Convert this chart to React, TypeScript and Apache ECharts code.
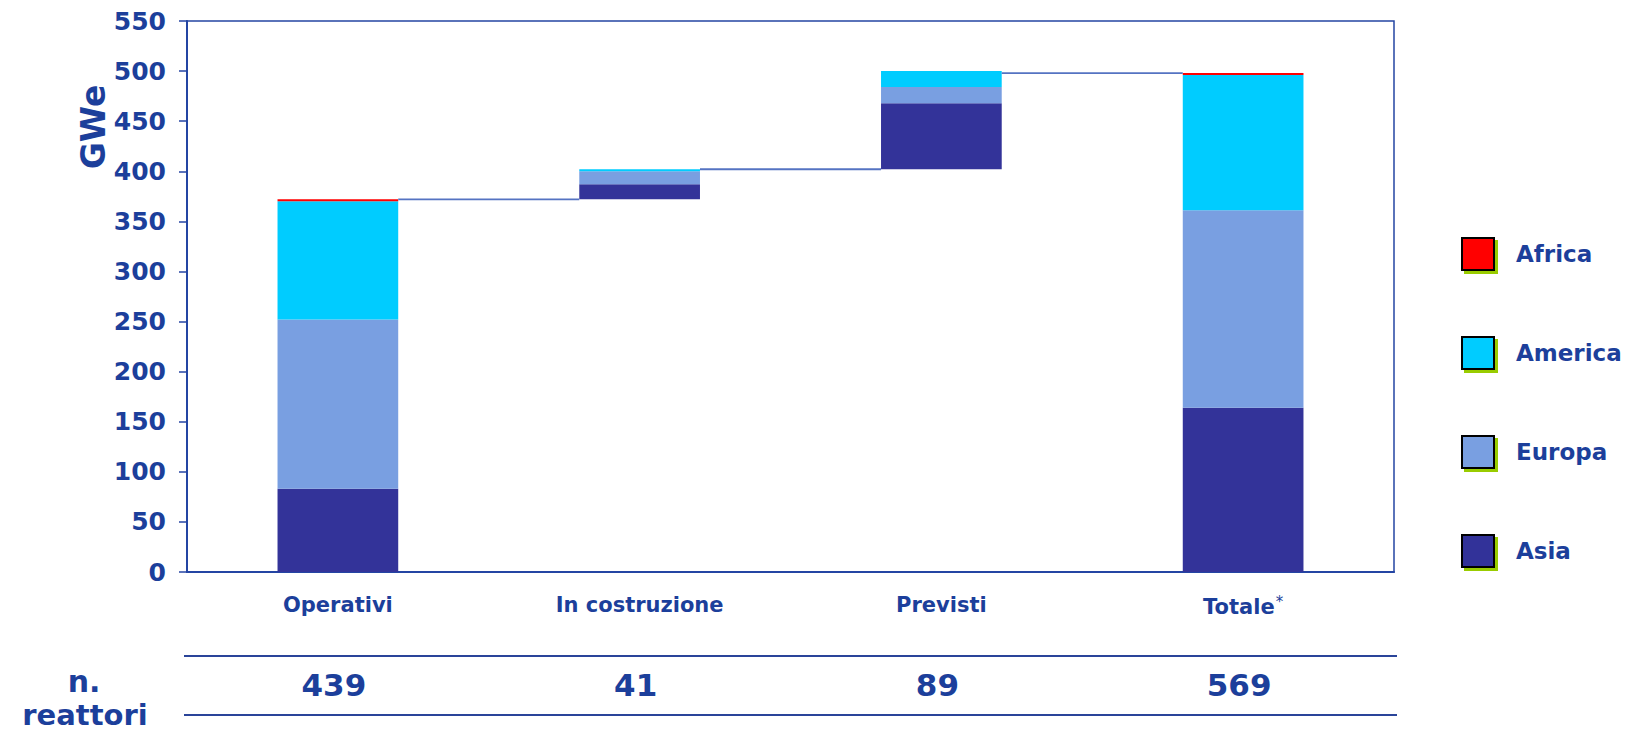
import React, { useEffect, useRef } from 'react';
import * as echarts from 'echarts';

// Nuclear capacity (GWe) by region: operating, under construction, planned, total
const CATEGORIES = ['Operativi', 'In costruzione', 'Previsti', 'Totale*'];
const BASE = [0, 372, 402, 0]; // invisible offset for the floating bars
const ASIA = [83, 15, 66, 164];
const EUROPA = [169, 13, 16, 197];
const AMERICA = [118, 2, 16, 135];
const AFRICA = [2, 0, 0, 2];
const REACTORS = [439, 41, 89, 569];
const Y_MIN = 0;
const Y_MAX = 550;
const Y_STEP = 50;

const TEXT_BLUE = '#1c3f9b';
const AXIS_BLUE = '#2445a3';
const FONT = 'DejaVu Sans';

const W = 1625;
const H = 733;

const tops = CATEGORIES.map(
  (_, i) => BASE[i] + ASIA[i] + EUROPA[i] + AMERICA[i] + AFRICA[i]
);
// connector level between bar i and bar i+1
const CONNECTORS = CATEGORIES.slice(0, -1).map((_, i) => [
  i,
  i + 1 === CATEGORIES.length - 1 ? tops[i + 1] : BASE[i + 1],
]);

const BAR_RATIO = 0.4;

export default function App() {
  const ref = useRef<HTMLDivElement>(null);

  useEffect(() => {
    if (!ref.current) return;
    const chart = echarts.init(ref.current, undefined, { renderer: 'svg' });

    const stackSeries = (name: string, data: number[], color: string) => ({
      name,
      type: 'bar',
      stack: 'total',
      barWidth: `${BAR_RATIO * 100}%`,
      data,
      itemStyle: { color },
      emphasis: { disabled: true },
    });

    const option: any = {
      animation: false,
      backgroundColor: '#ffffff',
      grid: {
        left: 187,
        right: W - 1394,
        top: 21,
        bottom: H - 572,
        show: true,
        borderColor: AXIS_BLUE,
        borderWidth: 1.5,
        backgroundColor: 'transparent',
      },
      legend: {
        orient: 'vertical',
        left: 1461,
        top: 237,
        padding: 0,
        itemWidth: 32,
        itemHeight: 32,
        itemGap: 65,
        icon: 'rect',
        selectedMode: false,
        data: ['Africa', 'America', 'Europa', 'Asia'],
        itemStyle: {
          borderColor: '#000000',
          borderWidth: 2,
          shadowColor: '#99cc00',
          shadowOffsetX: 3,
          shadowOffsetY: 3,
          shadowBlur: 0,
        },
        textStyle: {
          color: TEXT_BLUE,
          fontFamily: FONT,
          fontWeight: 'bold',
          fontSize: 23,
          padding: [0, 0, 0, 17],
        },
      },
      xAxis: {
        type: 'category',
        data: CATEGORIES,
        axisLine: { lineStyle: { color: AXIS_BLUE, width: 2 } },
        axisTick: { length: 7, lineStyle: { color: AXIS_BLUE, width: 1.5 } },
        axisLabel: {
          margin: 22,
          color: TEXT_BLUE,
          fontFamily: FONT,
          fontWeight: 'bold',
          fontSize: 21,
          formatter: (v: string) =>
            v.endsWith('*') ? `{b|${v.slice(0, -1)}}{s|*}` : `{b|${v}}`,
          rich: {
            b: { color: TEXT_BLUE, fontFamily: FONT, fontWeight: 'bold', fontSize: 21 },
            s: {
              color: TEXT_BLUE,
              fontFamily: FONT,
              fontWeight: 'normal',
              fontSize: 15,
              padding: [0, 0, 10, 1],
            },
          },
        },
      },
      yAxis: {
        type: 'value',
        min: Y_MIN,
        max: Y_MAX,
        interval: Y_STEP,
        splitLine: { show: false },
        axisLine: { show: true, lineStyle: { color: AXIS_BLUE, width: 2 } },
        axisTick: { show: true, length: 8, lineStyle: { color: AXIS_BLUE, width: 1.5 } },
        axisLabel: {
          margin: 21,
          color: TEXT_BLUE,
          fontFamily: FONT,
          fontWeight: 'bold',
          fontSize: 25,
        },
      },
      series: [
        {
          name: 'base',
          type: 'bar',
          stack: 'total',
          barWidth: `${BAR_RATIO * 100}%`,
          data: BASE,
          itemStyle: { color: 'transparent' },
          emphasis: { disabled: true },
          silent: true,
        },
        stackSeries('Asia', ASIA, '#333399'),
        stackSeries('Europa', EUROPA, '#799fe1'),
        stackSeries('America', AMERICA, '#00ccff'),
        stackSeries('Africa', AFRICA, '#ff0000'),
        {
          name: 'connector',
          type: 'custom',
          data: CONNECTORS,
          encode: { x: 0, y: 1 },
          silent: true,
          z: 5,
          renderItem: (_params: any, api: any) => {
            const idx = api.value(0);
            const level = api.value(1);
            const p0 = api.coord([idx, level]);
            const p1 = api.coord([idx + 1, level]);
            const half = (api.size([1, 0])[0] * BAR_RATIO) / 2;
            return {
              type: 'line',
              shape: { x1: p0[0] + half, y1: p0[1], x2: p1[0] - half, y2: p1[1] },
              style: { stroke: '#5573c2', lineWidth: 1.8 },
            };
          },
        },
      ],
    };

    chart.setOption(option);

    // reactor-count table under the category axis
    const centers = CATEGORIES.map((_, i) =>
      chart.convertToPixel({ xAxisIndex: 0 }, i) as number
    );
    const tableLeft = 184;
    const tableRight = 1397;
    const textStyle = (size: number) => ({
      fill: TEXT_BLUE,
      font: `bold ${size}px "${FONT}"`,
      align: 'center',
      verticalAlign: 'middle',
    });

    chart.setOption({
      graphic: [
        {
          type: 'text',
          x: 93,
          y: 127,
          rotation: Math.PI / 2,
          style: { text: 'GWe', ...textStyle(33) },
        },
        {
          type: 'line',
          shape: { x1: tableLeft, y1: 656, x2: tableRight, y2: 656 },
          style: { stroke: '#2a4499', lineWidth: 2 },
        },
        {
          type: 'line',
          shape: { x1: tableLeft, y1: 715, x2: tableRight, y2: 715 },
          style: { stroke: '#2a4499', lineWidth: 2 },
        },
        { type: 'text', x: 84, y: 681, style: { text: 'n.', ...textStyle(30) } },
        { type: 'text', x: 85, y: 715, style: { text: 'reattori', ...textStyle(29) } },
        ...REACTORS.map((n, i) => ({
          type: 'text',
          x: centers[i] - 4,
          y: 685,
          style: { text: String(n), ...textStyle(31) },
        })),
      ],
    });

    return () => chart.dispose();
  }, []);

  return (
    <div
      ref={ref}
      style={{ position: 'fixed', left: 0, top: 0, width: W, height: H }}
    />
  );
}
